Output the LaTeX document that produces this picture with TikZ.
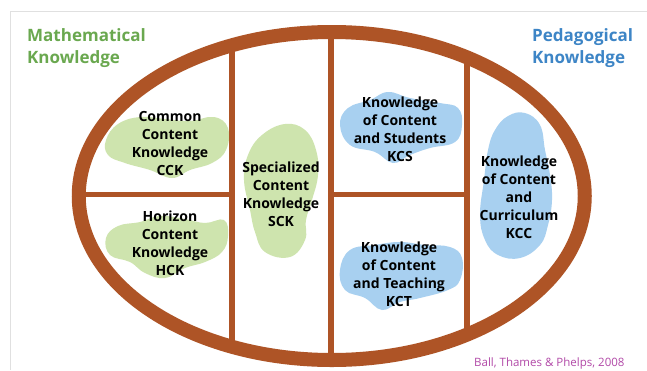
\documentclass[tikz,border=0pt]{standalone}
\usepackage{fontspec}
\setmainfont{Open Sans}
\definecolor{rim}{RGB}{174,84,38}
\definecolor{mathgreen}{RGB}{106,168,79}
\definecolor{pedblue}{RGB}{61,133,198}
\definecolor{blobgreen}{RGB}{206,228,174}
\definecolor{blobblue}{RGB}{168,208,240}
\definecolor{citecol}{RGB}{178,74,168}
\definecolor{framegray}{RGB}{224,224,224}
\tikzset{
  rimline/.style={draw=rim, line width=14pt},
  divider/.style={draw=rim, line width=5.5pt},
  greenblob/.style={fill=blobgreen, draw=none},
  blueblob/.style={fill=blobblue, draw=none},
  label/.style={font=\fontsize{14}{18}\selectfont\bfseries, align=center, inner sep=0pt, text=black},
  heading/.style={font=\fontsize{17}{22}\selectfont\bfseries, align=left, inner sep=0pt, anchor=west},
  cite/.style={font=\fontsize{11.5}{14}\selectfont, text=citecol, inner sep=0pt, anchor=base west}
}
\begin{document}
\begin{tikzpicture}[x=1pt, y=-1pt]
\useasboundingbox (0,0) rectangle (647,370);
\fill[white] (0,0) rectangle (647,370);
% thin frame along the top and left
\draw[framegray, line width=1pt] (10,370) -- (10,11) -- (647,11);

% knowledge blobs
\fill[greenblob] plot[smooth cycle, tension=0.7] coordinates {
  (106,140) (118,124) (140,117) (165,119) (190,121) (214,117) (228,128)
  (226,150) (212,163) (190,170) (172,178) (150,170) (125,163) (108,155)};
\fill[greenblob] plot[smooth cycle, tension=0.7] coordinates {
  (106,238) (118,226) (140,222) (160,216) (185,219) (205,223) (224,220)
  (228,236) (222,252) (205,262) (185,268) (165,278) (145,273) (130,262) (110,255)};
\fill[greenblob] plot[smooth cycle, tension=0.7] coordinates {
  (262,135) (285,124) (305,130) (316,150) (318,175) (312,200) (306,220)
  (305,240) (290,257) (265,252) (255,232) (250,210) (244,180) (248,155)};
\fill[blueblob] plot[smooth cycle, tension=0.7] coordinates {
  (340,125) (348,108) (370,100) (388,92) (410,98) (440,103) (458,108)
  (462,125) (455,142) (430,148) (410,155) (393,163) (375,152) (350,145)};
\fill[blueblob] plot[smooth cycle, tension=0.7] coordinates {
  (340,270) (350,250) (375,245) (400,242) (425,245) (450,247) (462,258)
  (460,280) (448,290) (420,298) (400,302) (382,310) (365,298) (345,290)};
\fill[blueblob] plot[smooth cycle, tension=0.7] coordinates {
  (495,130) (508,116) (525,113) (540,125) (545,150) (550,175) (552,200)
  (548,225) (540,245) (520,258) (498,255) (485,240) (480,215) (484,180) (488,150)};

% dividers inside the oval
\begin{scope}
  \clip (331.75,196) ellipse [x radius=253pt, y radius=164pt];
  \draw[divider] (232,0) -- (232,370);
  \draw[divider] (331,0) -- (331,370);
  \draw[divider] (467,0) -- (467,370);
  \draw[divider] (0,194.5) -- (232,194.5);
  \draw[divider] (331,194.5) -- (467,194.5);
\end{scope}
% the oval rim
\draw[rimline] (331.75,196) ellipse [x radius=253pt, y radius=164pt];

% headings
\node[heading, text=mathgreen] (math) at (27,48) {Mathematical\\Knowledge};
\node[heading, text=pedblue] (ped) at (532,48) {Pedagogical\\Knowledge};

% labels
\node[label] (cck) at (170,143) {Common\\Content\\Knowledge\\CCK};
\node[label] (hck) at (170,243) {Horizon\\Content\\Knowledge\\HCK};
\node[label] (sck) at (281,194) {Specialized\\Content\\Knowledge\\SCK};
\node[label] (kcs) at (400,129) {Knowledge\\of Content\\and Students\\KCS};
\node[label] (kct) at (399,274) {Knowledge\\of Content\\and Teaching\\KCT};
\node[label] (kcc) at (519,197.5) {Knowledge\\of Content\\and\\Curriculum\\KCC};

% citation
\node[cite] (src) at (474,366) {Ball, Thames \& Phelps, 2008};
\end{tikzpicture}
\end{document}
